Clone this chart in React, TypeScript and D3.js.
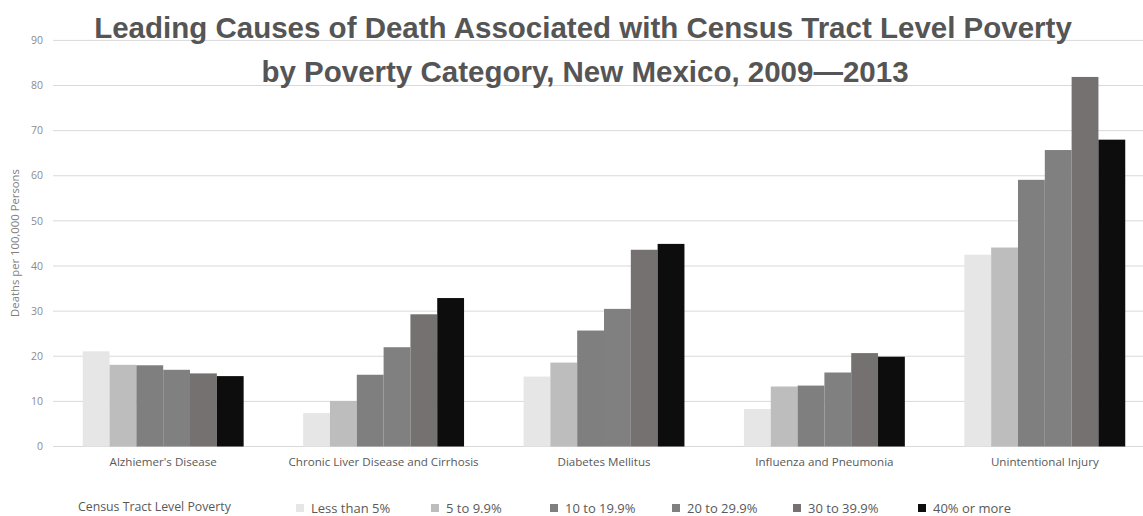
import React from "react";
import * as d3 from "d3";

const categories = [
  "Alzhiemer's Disease",
  "Chronic Liver Disease and Cirrhosis",
  "Diabetes Mellitus",
  "Influenza and Pneumonia",
  "Unintentional Injury",
];
const seriesNames = [
  "Less than 5%",
  "5 to 9.9%",
  "10 to 19.9%",
  "20 to 29.9%",
  "30 to 39.9%",
  "40% or more",
];
const lessThan5 = [21.1, 7.4, 15.5, 8.3, 42.5];
const from5to9 = [18.1, 10.1, 18.6, 13.3, 44.1];
const from10to19 = [18.0, 15.9, 25.7, 13.5, 59.1];
const from20to29 = [17.0, 22.0, 30.5, 16.4, 65.7];
const from30to39 = [16.2, 29.3, 43.6, 20.7, 81.9];
const over40 = [15.6, 32.9, 44.9, 19.9, 68.0];
const seriesValues = [lessThan5, from5to9, from10to19, from20to29, from30to39, over40];
const yTicks = [0, 10, 20, 30, 40, 50, 60, 70, 80, 90];
const colors = ["#e6e6e6", "#bdbdbd", "#7f7f7f", "#808080", "#767171", "#0d0d0d"];
const legendX = [296, 431, 550, 672, 793, 918];

const W = 1143;
const H = 516;

export default function App() {
  const x0 = d3.scaleBand<string>().domain(categories).range([53, 1155]).paddingInner(0.27).paddingOuter(0.135);
  const x1 = d3.scaleBand<string>().domain(seriesNames).range([0, x0.bandwidth()]).padding(0);
  const y = d3.scaleLinear().domain([0, 90]).range([446.5, 40.4]);
  const font = "'Open Sans', sans-serif";

  return (
    <svg width={W} height={H} style={{ position: "absolute", left: 0, top: 0, background: "#fff" }}>
      <rect x={0} y={0} width={W} height={H} fill="#fff" />
      {yTicks.map((t) => (
        <g key={t}>
          <line x1={53} x2={W} y1={y(t)} y2={y(t)} stroke="#d9d9d9" strokeWidth={1} />
          <text x={43} y={y(t)} dy="0.35em" textAnchor="end" fontFamily={font} fontSize={10.5} fill="#8c8c8c">
            {t}
          </text>
        </g>
      ))}
      <text
        transform={`translate(15,243) rotate(-90)`}
        textAnchor="middle"
        dy="0.35em"
        fontFamily={font}
        fontSize={11.3}
        fill="#7f7f7f"
      >
        Deaths per 100,000 Persons
      </text>
      {categories.map((c, ci) => (
        <g key={c}>
          {seriesNames.map((s, si) => {
            const v = seriesValues[si][ci];
            return (
              <rect
                key={s}
                x={(x0(c) as number) + (x1(s) as number)}
                y={y(v)}
                width={x1.bandwidth()}
                height={y(0) - y(v)}
                fill={colors[si]}
              />
            );
          })}
          <text
            x={(x0(c) as number) + x0.bandwidth() / 2}
            y={462}
            dy="0.35em"
            textAnchor="middle"
            fontFamily={font}
            fontSize={11.6}
            fill="#595959"
          >
            {c}
          </text>
        </g>
      ))}
      <g fontFamily="'Liberation Sans', Arial, sans-serif" fontWeight="bold" fontSize={29.5} fill="#555555" textAnchor="middle">
        <text x={583} y={38}>Leading Causes of Death Associated with Census Tract Level Poverty</text>
        <text x={585} y={82}>by Poverty Category, New Mexico, 2009—2013</text>
      </g>
      <text x={78} y={507} dy="0.35em" fontFamily={font} fontSize={12.3} fill="#595959">
        Census Tract Level Poverty
      </text>
      {seriesNames.map((s, si) => (
        <g key={s}>
          <rect x={legendX[si]} y={504} width={8} height={8} fill={colors[si]} />
          <text x={legendX[si] + 15} y={508} dy="0.35em" fontFamily={font} fontSize={13} fill="#595959">
            {s}
          </text>
        </g>
      ))}
    </svg>
  );
}
